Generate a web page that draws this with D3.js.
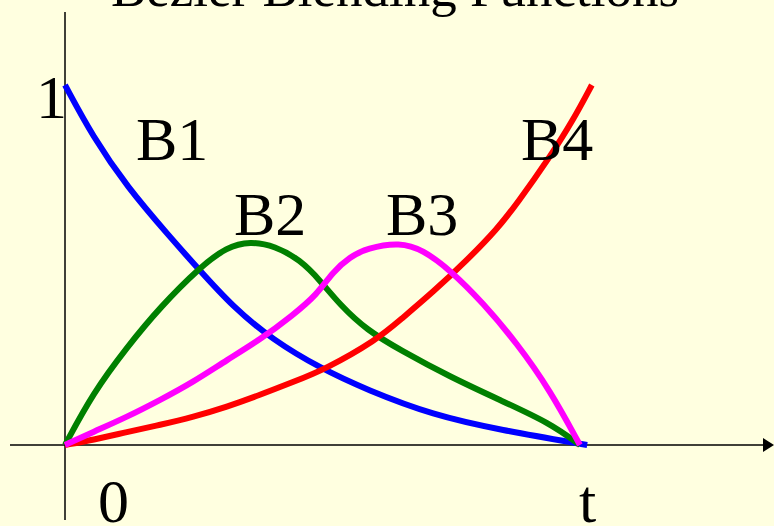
<!DOCTYPE html>
<html lang="en">
<head>
  <meta charset="UTF-8" />
  <title>Bezier Blending Functions</title>
  <script src="https://d3js.org/d3.v7.min.js"></script>
  <style>
    body {
      margin: 0;
      background: #ffffe0;
    }
    svg {
      display: block;
    }
    text {
      font-family: "Liberation Serif", "Times New Roman", serif;
      fill: #000;
    }
  </style>
</head>
<body>
  <svg id="chart" width="774" height="526"></svg>

  <script>
    // [t, value] pairs
    const b1 = [[0, 1], [0.054, 0.856], [0.12, 0.717], [0.203, 0.578], [0.255, 0.494],
      [0.325, 0.383], [0.402, 0.292], [0.493, 0.214], [0.584, 0.153], [0.712, 0.083],
      [0.841, 0.042], [1.01, 0]];
    const b2 = [[0, 0], [0.054, 0.144], [0.12, 0.272], [0.184, 0.383], [0.261, 0.494],
      [0.313, 0.55], [0.358, 0.566], [0.406, 0.553], [0.455, 0.514], [0.493, 0.458],
      [0.532, 0.389], [0.584, 0.319], [0.648, 0.264], [0.745, 0.189], [0.841, 0.125],
      [0.938, 0.061], [0.996, 0]];
    const b3 = [[0, 0], [0.054, 0.036], [0.12, 0.078], [0.184, 0.125], [0.248, 0.175],
      [0.313, 0.236], [0.377, 0.292], [0.441, 0.361], [0.487, 0.417], [0.518, 0.481],
      [0.551, 0.522], [0.584, 0.547], [0.648, 0.563], [0.692, 0.542], [0.745, 0.486],
      [0.809, 0.394], [0.874, 0.283], [0.938, 0.153], [0.996, 0]];
    const b4 = [[0, 0], [0.054, 0.014], [0.12, 0.036], [0.184, 0.056], [0.248, 0.078],
      [0.313, 0.106], [0.377, 0.139], [0.441, 0.175], [0.503, 0.21], [0.603, 0.292],
      [0.648, 0.347], [0.712, 0.425], [0.778, 0.514], [0.836, 0.6], [0.874, 0.67],
      [0.938, 0.8], [0.983, 0.903], [1.019, 1]];

    const seriesNames = ["B1", "B2", "B3", "B4"];
    const seriesColors = ["#0000ff", "#008000", "#ff00ff", "#ff0000"];
    const title = "Bezier Blending Functions";

    const svg = d3.select("#chart");

    const x = d3.scaleLinear().domain([0, 1]).range([65, 582]);
    const y = d3.scaleLinear().domain([0, 1]).range([445, 85]);

    // axes: plain lines, arrow on t
    svg.append("line")
      .attr("x1", x(0)).attr("x2", x(0))
      .attr("y1", 12).attr("y2", 520)
      .attr("stroke", "#000").attr("stroke-width", 1.5);

    svg.append("line")
      .attr("x1", 10).attr("x2", 764)
      .attr("y1", y(0)).attr("y2", y(0))
      .attr("stroke", "#000").attr("stroke-width", 1.5);

    svg.append("path")
      .attr("d", `M763,${y(0) - 7} L774,${y(0)} L763,${y(0) + 7} Z`)
      .attr("fill", "#000");

    const line = d3.line()
      .x(d => x(d[0]))
      .y(d => y(d[1]))
      .curve(d3.curveBasis);

    // drawing order: blue, green, red, magenta
    const drawn = [
      { data: b1, color: seriesColors[0] },
      { data: b2, color: seriesColors[1] },
      { data: b4, color: seriesColors[3] },
      { data: b3, color: seriesColors[2] }
    ];

    svg.append("g")
      .selectAll("path")
      .data(drawn)
      .join("path")
      .attr("d", d => line(d.data))
      .attr("fill", "none")
      .attr("stroke", d => d.color)
      .attr("stroke-width", 6);

    // series labels
    const labelPos = [[136, 160], [234, 235], [386, 235], [521, 160]];
    svg.append("g")
      .selectAll("text")
      .data(seriesNames)
      .join("text")
      .attr("x", (d, i) => labelPos[i][0])
      .attr("y", (d, i) => labelPos[i][1])
      .attr("font-size", 62)
      .text(d => d);

    svg.append("text").attr("x", 36).attr("y", 118).attr("font-size", 62).text("1");
    svg.append("text").attr("x", 98).attr("y", 522).attr("font-size", 62).text("0");
    svg.append("text").attr("x", 579).attr("y", 522).attr("font-size", 62).text("t");

    svg.append("text")
      .attr("x", 395).attr("y", 6)
      .attr("text-anchor", "middle")
      .attr("font-size", 53)
      .text(title);
  </script>
</body>
</html>
